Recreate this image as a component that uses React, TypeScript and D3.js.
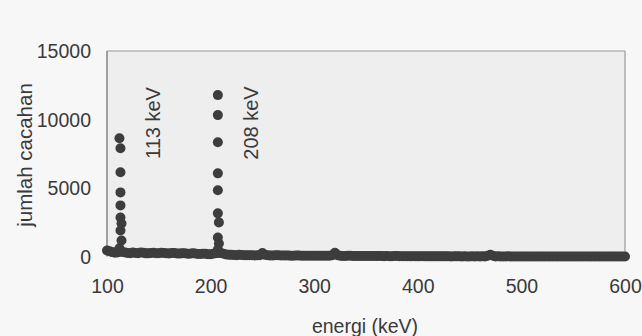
import React from "react";
import * as d3 from "d3";

// gamma spectrum: counts per channel (keV)
const baseEnergy = [
  100, 102.5, 105, 107.5, 110, 112.5, 115, 117.5, 120, 122.5,
  125, 127.5, 130, 132.5, 135, 137.5, 140, 142.5, 145, 147.5,
  150, 152.5, 155, 157.5, 160, 162.5, 165, 167.5, 170, 172.5,
  175, 177.5, 180, 182.5, 185, 187.5, 190, 192.5, 195, 197.5,
  200, 202.5, 205, 207.5, 210, 212.5, 215, 217.5, 220, 222.5,
  225, 227.5, 230, 232.5, 235, 237.5, 240, 242.5, 245, 247.5,
  250, 252.5, 255, 257.5, 260, 262.5, 265, 267.5, 270, 272.5,
  275, 277.5, 280, 282.5, 285, 287.5, 290, 292.5, 295, 297.5,
  300, 302.5, 305, 307.5, 310, 312.5, 315, 317.5, 320, 322.5,
  325, 327.5, 330, 332.5, 335, 337.5, 340, 342.5, 345, 347.5,
  350, 352.5, 355, 357.5, 360, 362.5, 365, 367.5, 370, 372.5,
  375, 377.5, 380, 382.5, 385, 387.5, 390, 392.5, 395, 397.5,
  400, 402.5, 405, 407.5, 410, 412.5, 415, 417.5, 420, 422.5,
  425, 427.5, 430, 432.5, 435, 437.5, 440, 442.5, 445, 447.5,
  450, 452.5, 455, 457.5, 460, 462.5, 465, 467.5, 470, 472.5,
  475, 477.5, 480, 482.5, 485, 487.5, 490, 492.5, 495, 497.5,
  500, 502.5, 505, 507.5, 510, 512.5, 515, 517.5, 520, 522.5,
  525, 527.5, 530, 532.5, 535, 537.5, 540, 542.5, 545, 547.5,
  550, 552.5, 555, 557.5, 560, 562.5, 565, 567.5, 570, 572.5,
  575, 577.5, 580, 582.5, 585, 587.5, 590, 592.5, 595, 597.5,
  600,
];
const baseCounts = [
  440, 380, 320, 280, 300, 350, 330, 300, 260, 240,
  300, 250, 240, 290, 280, 230, 230, 260, 270, 240,
  240, 280, 260, 230, 220, 250, 250, 220, 210, 230,
  240, 200, 200, 230, 220, 190, 180, 200, 200, 170,
  170, 200, 240, 260, 260, 200, 150, 130, 120, 110,
  100, 120, 110, 90, 90, 100, 100, 80, 90, 100,
  260, 120, 90, 80, 80, 90, 90, 70, 70, 80,
  80, 60, 60, 70, 70, 60, 60, 50, 60, 50,
  50, 60, 60, 50, 50, 60, 60, 100, 280, 90,
  50, 40, 40, 50, 50, 40, 40, 30, 40, 40,
  30, 40, 40, 30, 30, 30, 30, 20, 30, 20,
  20, 30, 30, 20, 20, 20, 20, 10, 20, 20,
  10, 20, 20, 10, 10, 10, 10, 10, 10, 10,
  10, 10, 10, 0, 10, 10, 10, 0, 10, 0,
  0, 10, 0, 10, 0, 10, 0, 60, 120, 60,
  0, 10, 0, 0, 0, 10, 0, 0, 0, 0,
  0, 0, 0, 0, 0, 0, 0, 0, 0, 0,
  0, 0, 0, 0, 0, 0, 0, 0, 0, 0,
  0, 0, 0, 0, 0, 0, 0, 0, 0, 0,
  0, 0, 0, 0, 0, 0, 0, 0, 0, 0,
  0,
];

const peak113Energy = [112, 113, 113, 113, 113, 113, 114, 113, 114, 112];
const peak113Counts = [8630, 7900, 6150, 4680, 3730, 2850, 2410, 1900, 1170, 600];
const peak208Energy = [207, 207, 207, 207, 207, 207, 208, 207, 208, 207];
const peak208Counts = [11780, 10320, 8340, 6070, 4830, 3150, 2490, 1390, 950, 500];

const xTicks = [100, 200, 300, 400, 500, 600];
const yTicks = [0, 5000, 10000, 15000];
const peakLabels = [
  { energy: 113, text: "113 keV" },
  { energy: 208, text: "208 keV" },
];

const W = 642;
const H = 336;
const margin = { top: 51, right: 17, bottom: 80, left: 107 };
const font = "'Liberation Sans', Arial, sans-serif";
const ink = "#3a3a3a";

export default function App() {
  const x = d3
    .scaleLinear()
    .domain([100, 600])
    .range([margin.left, W - margin.right]);
  const y = d3
    .scaleLinear()
    .domain([0, 15000])
    .range([H - margin.bottom + 0.5, margin.top]);

  const points = [
    ...baseEnergy.map((e, i) => [e, baseCounts[i]]),
    ...peak113Energy.map((e, i) => [e, peak113Counts[i]]),
    ...peak208Energy.map((e, i) => [e, peak208Counts[i]]),
  ];

  const x0 = x(100);
  const x1 = x(600);
  const yTop = y(15000);
  const yBot = y(0);

  return (
    <svg
      width={W}
      height={H}
      style={{ position: "absolute", left: 0, top: 0 }}
      fontFamily={font}
    >
      <rect width={W} height={H} fill="#f7f7f7" />
      <rect x={x0} y={yTop} width={x1 - x0} height={yBot - yTop} fill="#eeeeee" />
      {/* frame */}
      <line x1={x0} x2={x1} y1={yTop} y2={yTop} stroke="#9a9a9a" strokeWidth={1.2} />
      <line x1={x1} x2={x1} y1={yTop} y2={yBot} stroke="#9a9a9a" strokeWidth={1.2} />
      <line x1={x0} x2={x0} y1={yTop} y2={yBot} stroke="#6a6a6a" strokeWidth={1.2} />

      {/* data */}
      {points.map(([e, c], i) => (
        <circle key={i} cx={x(e)} cy={y(c)} r={5} fill="#3d3d3d" />
      ))}

      {/* y ticks */}
      {yTicks.map((t) => (
        <text
          key={t}
          x={91}
          y={y(t)}
          dy="0.36em"
          textAnchor="end"
          fontSize={19.5}
          fill={ink}
        >
          {t}
        </text>
      ))}
      {/* x ticks */}
      {xTicks.map((t) => (
        <text
          key={t}
          x={x(t) + 0.5}
          y={286}
          dy="0.36em"
          textAnchor="middle"
          fontSize={19.5}
          fill={ink}
        >
          {t}
        </text>
      ))}

      {/* peak labels */}
      {peakLabels.map((p) => (
        <text
          key={p.text}
          transform={`translate(${x(p.energy) + 32},123) rotate(-90)`}
          textAnchor="middle"
          dy="0.36em"
          fontSize={20}
          fill={ink}
        >
          {p.text}
        </text>
      ))}

      {/* axis titles */}
      <text
        x={365}
        y={326}
        dy="0.36em"
        textAnchor="middle"
        fontSize={19.5}
        fill={ink}
      >
        energi (keV)
      </text>
      <text
        transform="translate(25,155) rotate(-90)"
        textAnchor="middle"
        dy="0.36em"
        fontSize={20.5}
        fill={ink}
      >
        jumlah cacahan
      </text>
    </svg>
  );
}
